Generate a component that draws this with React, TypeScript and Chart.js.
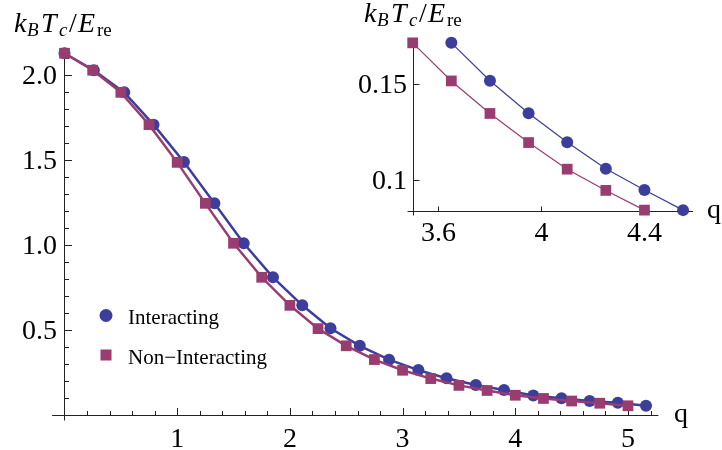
import React, { useEffect, useRef } from "react";
import { Chart, registerables } from "chart.js";

Chart.register(...registerables);

// ---------- data ----------
const nonInteractingQ = [0, 0.25, 0.5, 0.75, 1, 1.25, 1.5, 1.75, 2, 2.25, 2.5, 2.75, 3, 3.25, 3.5, 3.75, 4, 4.25, 4.5, 4.75, 5];
const nonInteractingTc = [2.13, 2.03, 1.9, 1.71, 1.488, 1.247, 1.012, 0.812, 0.647, 0.51, 0.409, 0.328, 0.265, 0.216, 0.176, 0.146, 0.118, 0.099, 0.084, 0.071, 0.056];
const interactingQ = [0, 0.26, 0.53, 0.79, 1.06, 1.33, 1.59, 1.85, 2.11, 2.36, 2.62, 2.88, 3.14, 3.39, 3.65, 3.9, 4.16, 4.41, 4.66, 4.91, 5.16];
const interactingTc = [2.13, 2.03, 1.9, 1.71, 1.49, 1.247, 1.012, 0.812, 0.647, 0.512, 0.409, 0.327, 0.266, 0.218, 0.178, 0.149, 0.116, 0.1, 0.084, 0.074, 0.056];

const insetNonInteractingQ = [3.5, 3.65, 3.8, 3.95, 4.1, 4.25, 4.4];
const insetNonInteractingTc = [0.1717, 0.1518, 0.1348, 0.1196, 0.1057, 0.0946, 0.0843];
const insetInteractingQ = [3.65, 3.8, 3.95, 4.1, 4.25, 4.4, 4.55];
const insetInteractingTc = [0.1717, 0.1519, 0.1349, 0.1198, 0.1059, 0.0948, 0.0843];

const mainXTicks = [1, 2, 3, 4, 5];
const mainXTickLabels = ["1", "2", "3", "4", "5"];
const mainYTicks = [0.5, 1, 1.5, 2];
const mainYTickLabels = ["0.5", "1.0", "1.5", "2.0"];
const insetXTicks = [3.6, 4, 4.4];
const insetXTickLabels = ["3.6", "4", "4.4"];
const insetYTicks = [0.1, 0.15];
const insetYTickLabels = ["0.1", "0.15"];

const seriesNames = ["Interacting", "Non\u2212Interacting"];
const axisXName = "q";

// ---------- styles ----------
const BLUE = "rgb(61,61,155)";
const RED = "rgb(153,61,113)";
const AXIS = "#222";
const SERIF = '"Liberation Serif", "Times New Roman", serif';

type Piece = { t: string; dx: number; italic: boolean; sub: boolean };
const LABEL_PIECES: Piece[] = [
  { t: "k", dx: 0, italic: true, sub: false },
  { t: "B", dx: 13, italic: true, sub: true },
  { t: "T", dx: 27, italic: true, sub: false },
  { t: "c", dx: 45, italic: true, sub: true },
  { t: "/", dx: 55, italic: false, sub: false },
  { t: "E", dx: 64, italic: true, sub: false },
  { t: "re", dx: 83, italic: false, sub: true },
];

function drawYLabel(ctx: CanvasRenderingContext2D, x: number, baseline: number) {
  ctx.save();
  ctx.fillStyle = "#000";
  ctx.textAlign = "left";
  ctx.textBaseline = "alphabetic";
  for (const p of LABEL_PIECES) {
    ctx.font = `${p.italic ? "italic " : ""}${p.sub ? 19 : 28}px ${SERIF}`;
    ctx.fillText(p.t, x + p.dx, baseline + (p.sub ? 4 : 0));
  }
  ctx.restore();
}

function crisp(v: number) {
  return Math.round(v) + 0.5;
}

function seg(ctx: CanvasRenderingContext2D, x1: number, y1: number, x2: number, y2: number) {
  ctx.beginPath();
  ctx.moveTo(x1, y1);
  ctx.lineTo(x2, y2);
  ctx.stroke();
}

function toPoints(xs: number[], ys: number[]) {
  return xs.map((x, i) => ({ x, y: ys[i] }));
}

const mainAxesPlugin = {
  id: "mainAxes",
  beforeDatasetsDraw(chart: any) {
    const ctx: CanvasRenderingContext2D = chart.ctx;
    const xs = chart.scales.x;
    const ys = chart.scales.y;
    const x0 = crisp(xs.getPixelForValue(0));
    const y0 = crisp(ys.getPixelForValue(0));
    ctx.save();
    ctx.strokeStyle = AXIS;
    ctx.lineWidth = 1;
    seg(ctx, xs.left, y0, xs.right, y0);
    seg(ctx, x0, ys.top, x0, y0 + 5);
    // x ticks
    for (let k = 1; k <= 26; k++) {
      const v = k * 0.2;
      const px = crisp(xs.getPixelForValue(v));
      const major = k % 5 === 0;
      seg(ctx, px, y0, px, y0 - (major ? 7.5 : 4.5));
    }
    // y ticks
    for (let k = 1; k <= 21; k++) {
      const v = k * 0.1;
      const py = crisp(ys.getPixelForValue(v));
      const major = k % 5 === 0;
      seg(ctx, x0, py, x0 + (major ? 7.5 : 4.5), py);
    }
    ctx.fillStyle = "#000";
    ctx.font = `28px ${SERIF}`;
    ctx.textAlign = "center";
    ctx.textBaseline = "alphabetic";
    mainXTicks.forEach((v, i) => {
      ctx.fillText(mainXTickLabels[i], xs.getPixelForValue(v), 447);
    });
    ctx.textAlign = "right";
    mainYTicks.forEach((v, i) => {
      ctx.fillText(mainYTickLabels[i], 57, ys.getPixelForValue(v) + 9);
    });
    ctx.textAlign = "left";
    ctx.fillText(axisXName, 674, y0 + 6);
    ctx.restore();
    drawYLabel(ctx, 14, 32);
  },
  afterDatasetsDraw(chart: any) {
    const ctx: CanvasRenderingContext2D = chart.ctx;
    ctx.save();
    ctx.fillStyle = BLUE;
    ctx.beginPath();
    ctx.arc(106, 315.5, 6.5, 0, Math.PI * 2);
    ctx.fill();
    ctx.fillStyle = RED;
    ctx.fillRect(100.5, 349.5, 11, 11);
    ctx.fillStyle = "#000";
    ctx.font = `21px ${SERIF}`;
    ctx.textAlign = "left";
    ctx.textBaseline = "alphabetic";
    ctx.fillText(seriesNames[0], 128, 323.5);
    ctx.fillText(seriesNames[1], 128, 363.5);
    ctx.restore();
  },
};

const insetAxesPlugin = {
  id: "insetAxes",
  beforeDatasetsDraw(chart: any) {
    const ctx: CanvasRenderingContext2D = chart.ctx;
    const xs = chart.scales.x;
    const ys = chart.scales.y;
    const x0 = crisp(xs.getPixelForValue(3.5));
    const y0 = crisp(ys.getPixelForValue(0.084));
    ctx.save();
    ctx.strokeStyle = AXIS;
    ctx.lineWidth = 1;
    seg(ctx, xs.left, y0, xs.right, y0);
    seg(ctx, x0, ys.top, x0, y0 + 4);
    insetXTicks.forEach((v) => {
      const px = crisp(xs.getPixelForValue(v));
      seg(ctx, px, y0, px, y0 - 5);
    });
    insetYTicks.forEach((v) => {
      const py = crisp(ys.getPixelForValue(v));
      seg(ctx, x0, py, x0 + 6, py);
    });
    ctx.fillStyle = "#000";
    ctx.font = `28px ${SERIF}`;
    ctx.textBaseline = "alphabetic";
    ctx.textAlign = "center";
    insetXTicks.forEach((v, i) => {
      ctx.fillText(insetXTickLabels[i], xs.getPixelForValue(v), 241);
    });
    ctx.textAlign = "right";
    insetYTicks.forEach((v, i) => {
      ctx.fillText(insetYTickLabels[i], 67, ys.getPixelForValue(v) + 9);
    });
    ctx.textAlign = "left";
    ctx.fillText(axisXName, 367, y0 + 6);
    ctx.restore();
    drawYLabel(ctx, 24, 22);
  },
};

export default function App() {
  const mainRef = useRef<HTMLCanvasElement>(null);
  const insetRef = useRef<HTMLCanvasElement>(null);

  useEffect(() => {
    const common = {
      responsive: false,
      animation: false as const,
      events: [] as any[],
      plugins: { legend: { display: false }, tooltip: { enabled: false } },
      elements: { line: { tension: 0 } },
    };

    const main = new Chart(mainRef.current as HTMLCanvasElement, {
      type: "line",
      data: {
        datasets: [
          {
            label: seriesNames[0],
            data: toPoints(interactingQ, interactingTc),
            borderColor: BLUE,
            backgroundColor: BLUE,
            borderWidth: 2.5,
            pointStyle: "circle",
            pointRadius: 6,
            pointBorderWidth: 0,
            pointBackgroundColor: BLUE,
            clip: false,
            order: 2,
          },
          {
            label: seriesNames[1],
            data: toPoints(nonInteractingQ, nonInteractingTc),
            borderColor: RED,
            backgroundColor: RED,
            borderWidth: 2.5,
            pointStyle: "rect",
            pointRadius: 7.6,
            pointBorderWidth: 0,
            pointBackgroundColor: RED,
            clip: false,
            order: 1,
          },
        ],
      },
      options: {
        ...common,
        layout: { padding: { left: 52.1, right: 63.6, top: 49, bottom: 34.7 } },
        scales: {
          x: { type: "linear", min: -0.11, max: 5.27, display: false },
          y: { type: "linear", min: 0, max: 2.155, display: false },
        },
      },
      plugins: [mainAxesPlugin],
    } as any);

    const inset = new Chart(insetRef.current as HTMLCanvasElement, {
      type: "line",
      data: {
        datasets: [
          {
            label: seriesNames[0],
            data: toPoints(insetInteractingQ, insetInteractingTc),
            borderColor: BLUE,
            backgroundColor: BLUE,
            borderWidth: 1.2,
            pointStyle: "circle",
            pointRadius: 6,
            pointBorderWidth: 0,
            pointBackgroundColor: BLUE,
            clip: false,
            order: 2,
          },
          {
            label: seriesNames[1],
            data: toPoints(insetNonInteractingQ, insetNonInteractingTc),
            borderColor: RED,
            backgroundColor: RED,
            borderWidth: 1.2,
            pointStyle: "rect",
            pointRadius: 7.6,
            pointBorderWidth: 0,
            pointBackgroundColor: RED,
            clip: false,
            order: 1,
          },
        ],
      },
      options: {
        ...common,
        layout: { padding: { left: 67.55, right: 29, top: 41.7, bottom: 39.3 } },
        scales: {
          x: { type: "linear", min: 3.48, max: 4.5885, display: false },
          y: { type: "linear", min: 0.084, max: 0.1723, display: false },
        },
      },
      plugins: [insetAxesPlugin],
    } as any);

    return () => {
      main.destroy();
      inset.destroy();
    };
  }, []);

  return (
    <div style={{ position: "fixed", left: 0, top: 0, width: 722, height: 450, background: "#fff" }}>
      <canvas ref={mainRef} width={722} height={450} style={{ position: "absolute", left: 0, top: 0 }} />
      <canvas ref={insetRef} width={382} height={250} style={{ position: "absolute", left: 340, top: 0 }} />
    </div>
  );
}
